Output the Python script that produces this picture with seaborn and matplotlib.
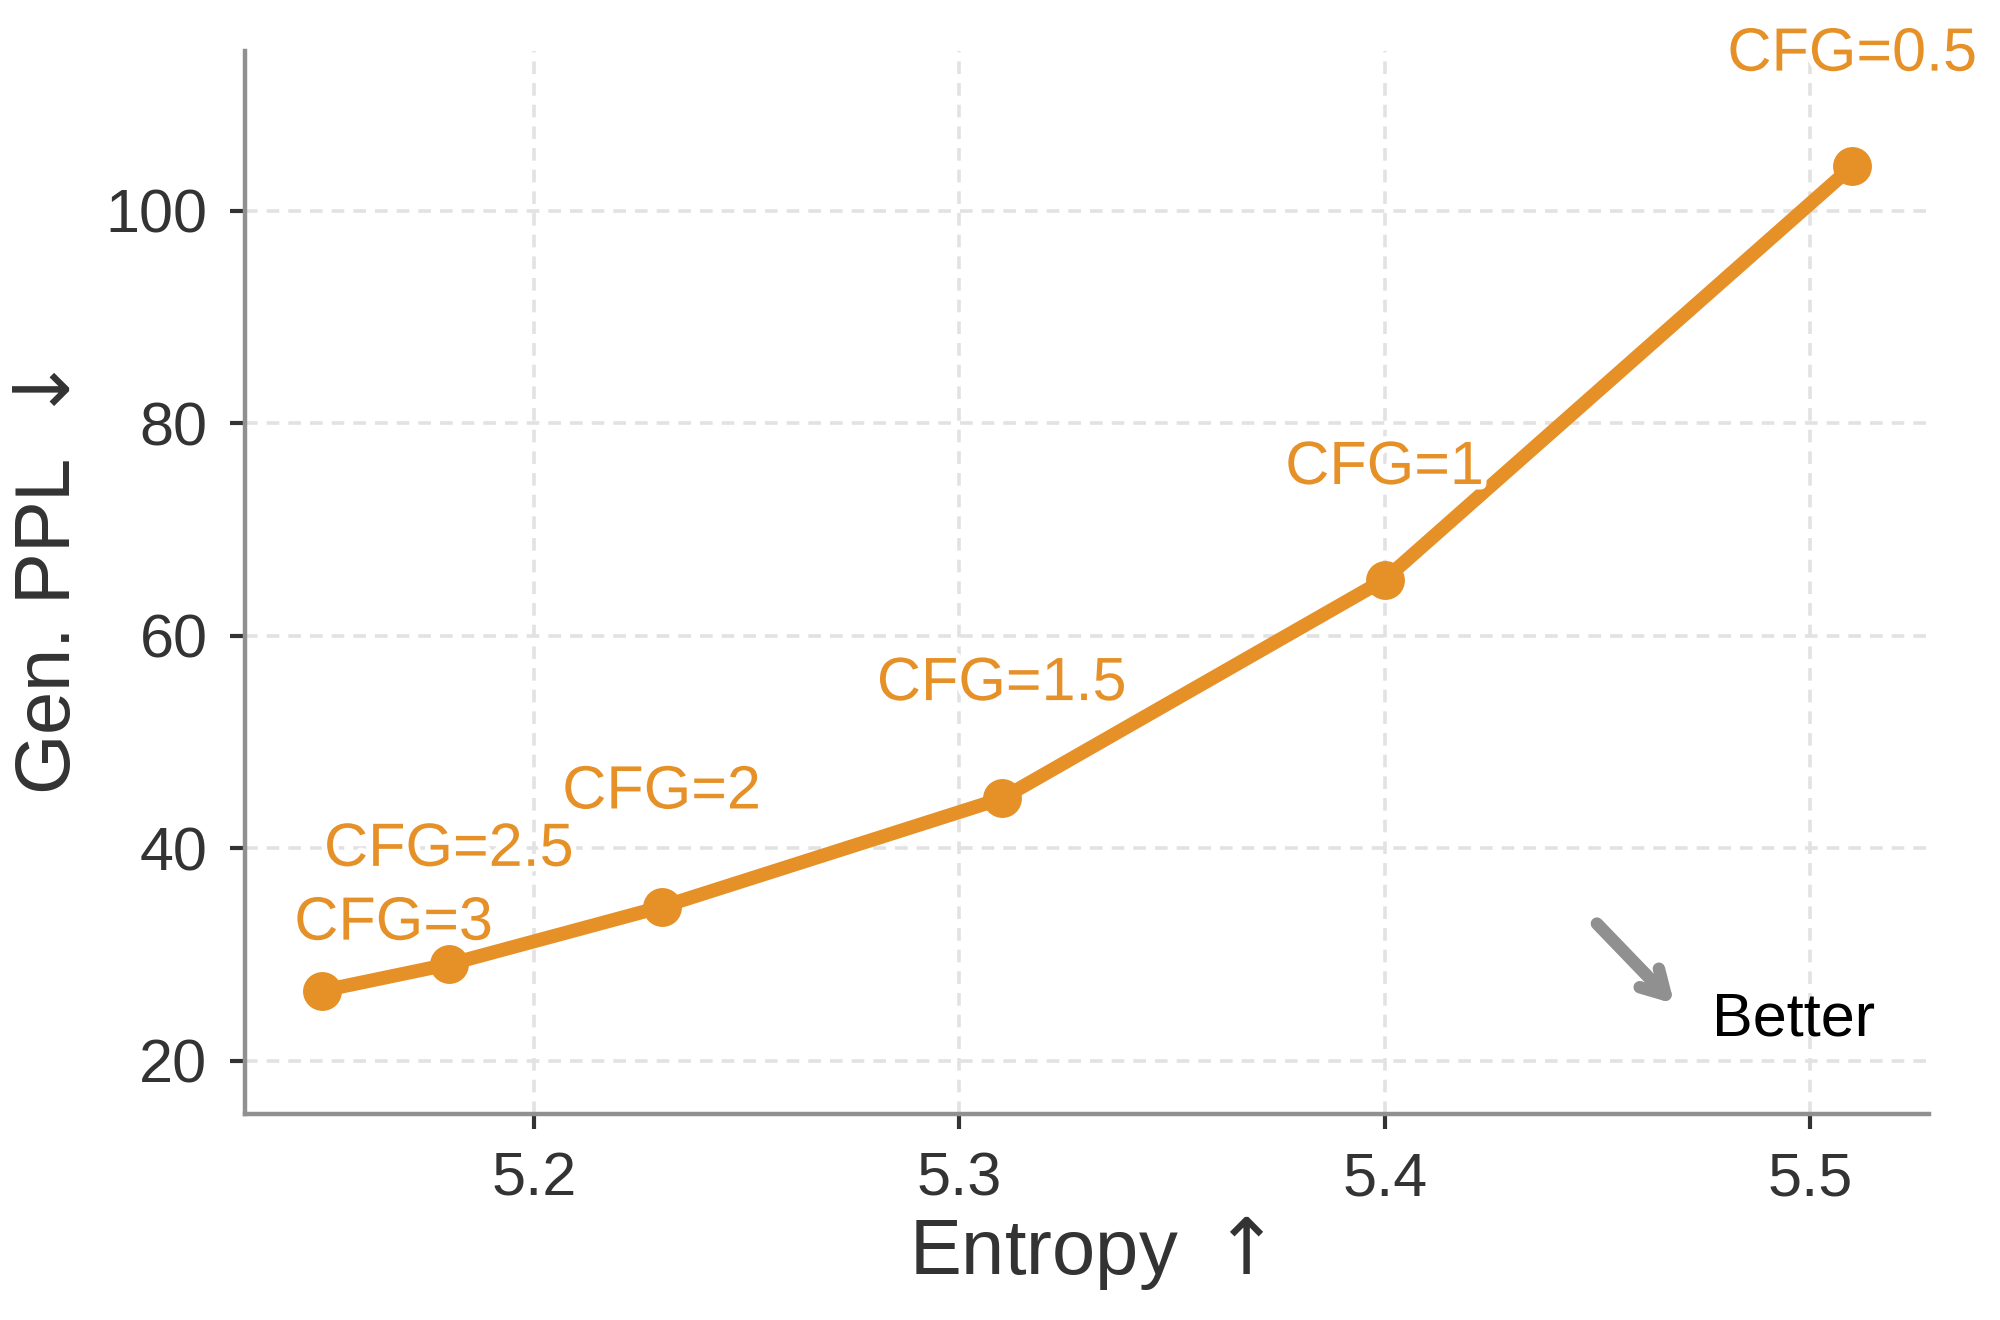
import seaborn as sns
import pandas as pd
import matplotlib.pyplot as plt
import matplotlib.patheffects as pe

entropy = [5.15, 5.18, 5.23, 5.31, 5.40, 5.51]
gen_ppl = [26.6, 29.1, 34.5, 44.7, 65.3, 104.2]
cfg_labels = ["CFG=3", "CFG=2.5", "CFG=2", "CFG=1.5", "CFG=1", "CFG=0.5"]
# label offsets in points (dx, dy)
label_offsets = [(26, 24), (0, 41), (0, 41), (0, 41), (0, 40), (0, 40)]

orange = "#E69128"

sns.set_theme(style="ticks")
plt.rcParams["font.family"] = ["Liberation Sans", "DejaVu Sans"]
plt.rcParams["mathtext.fontset"] = "dejavusans"

df = pd.DataFrame({"entropy": entropy, "ppl": gen_ppl})

fig = plt.figure(figsize=(10, 6.6), dpi=200)
ax = fig.add_axes([0.1225, 0.156, 0.842, 0.805])

sns.lineplot(data=df, x="entropy", y="ppl", ax=ax, color=orange,
             linewidth=5, marker="o", markersize=14, markeredgewidth=0,
             zorder=3)

for x, y, lab, (dx, dy) in zip(entropy, gen_ppl, cfg_labels, label_offsets):
    ax.annotate(lab, (x, y), xytext=(dx, dy), textcoords="offset points",
                ha="center", va="center", fontsize=22, color=orange, zorder=4,
                path_effects=[pe.withStroke(linewidth=4, foreground="white")])

# "Better" hint
ax.annotate("", xy=(5.469, 25.0), xytext=(5.449, 33.3),
            arrowprops=dict(arrowstyle="->,head_length=0.7,head_width=0.4",
                            color="#909090", lw=4.5, capstyle="round"))
ax.text(5.477, 23.9, "Better", fontsize=22, color="black", ha="left", va="center")

ax.set_xlim(5.132, 5.528)
ax.set_ylim(15, 115)
ax.set_xticks([5.2, 5.3, 5.4, 5.5])
ax.set_yticks([20, 40, 60, 80, 100])

ax.grid(True, color="#e2e2e2", linestyle=(0, (3.5, 2.5)), linewidth=1.3)
ax.set_axisbelow(True)

ax.set_xlabel("Entropy $\\uparrow$", fontsize=28, color="#333333", labelpad=2)
ax.set_ylabel("Gen. PPL $\\downarrow$", fontsize=28, color="#333333", labelpad=7)
ax.tick_params(axis="both", labelsize=22, colors="#333333", length=5.5,
               width=1.5, pad=8)

sns.despine(ax=ax)
for s in ["left", "bottom"]:
    ax.spines[s].set_color("#909090")
    ax.spines[s].set_linewidth(1.6)

fig.savefig("out.png", dpi=200)
